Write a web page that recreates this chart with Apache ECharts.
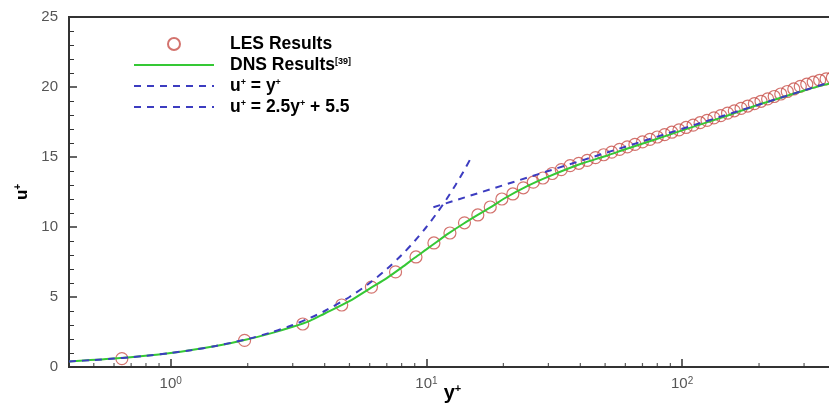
<!DOCTYPE html>
<html><head><meta charset="utf-8">
<script src="https://cdn.jsdelivr.net/npm/echarts@6/dist/echarts.min.js"></script>
<style>html,body{margin:0;padding:0;background:#fff}#c{width:829px;height:406px}</style>
</head><body><div id="c"></div>
<script>
// LES results (y+, u+)
const lesY = [0.644,1.944,3.284,4.664,6.094,7.574,9.104,10.70,12.36,14.09,15.89,17.77,19.73,21.78,23.93,26.18,28.55,31.05,33.69,36.48,39.43,42.55,45.85,49.34,53.03,56.93,61.05,65.40,70.00,74.86,80.00,85.43,91.17,97.24,103.65,110.43,117.60,125.18,133.19,141.66,150.61,160.07,170.07,180.64,191.81,203.62,216.10,229.29,243.23,257.97,273.55,290.02,307.43,325.83,345.28,365.84,386.9];
const lesU = [0.6,1.9,3.07,4.43,5.71,6.79,7.86,8.86,9.57,10.3,10.86,11.43,12.0,12.36,12.8,13.2,13.5,13.82,14.1,14.38,14.55,14.76,14.96,15.16,15.35,15.54,15.72,15.90,16.08,16.26,16.43,16.60,16.77,16.94,17.11,17.28,17.45,17.62,17.79,17.96,18.13,18.30,18.47,18.64,18.81,18.98,19.15,19.32,19.50,19.68,19.86,20.04,20.20,20.35,20.48,20.58,20.66];
// DNS results
const dnsY = [0.4,0.6,1,1.5,2,2.5,3,3.5,4,5,6,7,8,9,10,11,12,14,16,18,20,25,30,40,50,60,80,100,150,200,250,300,350,400];
const dnsU = [0.4,0.6,1.0,1.5,1.98,2.44,2.87,3.3,3.82,4.7,5.6,6.35,7.1,7.8,8.4,8.95,9.45,10.25,10.9,11.45,12.0,12.95,13.6,14.5,15.05,15.55,16.3,16.9,17.95,18.75,19.3,19.75,20.1,20.35];
// u+ = y+
const linY = [0.4,0.5,0.6,0.7,0.8,1,1.2,1.5,2,2.5,3,3.5,4,5,6,7,8,9,10,11,12,13,14,15];
const linU = [0.4,0.5,0.6,0.7,0.8,1,1.2,1.5,2,2.5,3,3.5,4,5,6,7,8,9,10,11,12,13,14,15];
// log law
const logY = [10.65, 400];
const logU = [11.41, 20.48];
// minor tick positions on the log x axis
const xMinorTicks = [0.5,0.6,0.7,0.8,0.9,2,3,4,5,6,7,8,9,20,30,40,50,60,70,80,90,200,300];
const seriesNames = ['LES Results','DNS Results','u+ = y+','u+ = 2.5y+ + 5.5'];
const legendLabels = {
  'LES Results': '{b|LES Results}',
  'DNS Results': '{b|DNS Results}{s|[39]}',
  'u+ = y+': '{b|u}{s|+}{b| = y}{s|+}',
  'u+ = 2.5y+ + 5.5': '{b|u}{s|+}{b| = 2.5y}{s|+}{b| + 5.5}'
};

const FONT = '"Liberation Sans", Arial, sans-serif';
const zip = (a, b) => a.map((v, i) => [v, b[i]]);
const chart = echarts.init(document.getElementById('c'), null, {renderer: 'canvas'});
chart.setOption({
  backgroundColor: '#fff',
  animation: false,
  textStyle: {fontFamily: FONT},
  grid: {left: 69, right: -7, top: 17, bottom: 39, show: true, borderColor: '#333', borderWidth: 2,
         containLabel: false, outerBoundsMode: 'none'},
  legend: {
    orient: 'vertical', left: 128, top: 30, itemWidth: 80, itemHeight: 12, itemGap: 3,
    data: seriesNames.map((n, i) => i === 0 ? {name: n} : {name: n, itemStyle: {opacity: 0}}),
    formatter: n => legendLabels[n],
    textStyle: {
      padding: [0, 0, 0, 11],
      rich: {
        b: {fontFamily: FONT, fontWeight: 'bold', fontSize: 17.5, color: '#000', lineHeight: 16},
        s: {fontFamily: FONT, fontWeight: 'bold', fontSize: 9, color: '#000', verticalAlign: 'top', lineHeight: 9}
      }
    }
  },
  xAxis: {
    type: 'log', logBase: 10, min: 0.4, max: 400,
    name: '{b|y}{s|+}', nameLocation: 'middle', nameGap: 16, nameMoveOverlap: false,
    nameTextStyle: {rich: {
      b: {fontFamily: FONT, fontWeight: 'bold', fontSize: 20, color: '#000'},
      s: {fontFamily: FONT, fontWeight: 'bold', fontSize: 11, color: '#000', verticalAlign: 'top', lineHeight: 8}
    }},
    axisLine: {show: true, lineStyle: {color: '#333', width: 2}},
    axisTick: {show: true, inside: true, length: 8, lineStyle: {color: '#333', width: 1.5}},
    minorTick: {show: false},
    splitLine: {show: false},
    axisLabel: {
      margin: 9, showMinLabel: false, showMaxLabel: false,
      formatter: v => {
        const e = Math.log10(v);
        if (Math.abs(e - Math.round(e)) > 1e-6) return '';
        return '{n|10}{s|' + Math.round(e) + '}';
      },
      rich: {
        n: {fontFamily: FONT, fontSize: 15, color: '#555'},
        s: {fontFamily: FONT, fontSize: 10, color: '#555', verticalAlign: 'top', lineHeight: 8}
      }
    }
  },
  yAxis: {
    type: 'value', min: 0, max: 25, interval: 5,
    name: '{b|u}{s|+}', nameLocation: 'middle', nameGap: 38, nameRotate: 90,
    nameTextStyle: {rich: {
      b: {fontFamily: FONT, fontWeight: 'bold', fontSize: 17, color: '#000'},
      s: {fontFamily: FONT, fontWeight: 'bold', fontSize: 10, color: '#000', verticalAlign: 'top', lineHeight: 8}
    }},
    axisLine: {show: true, lineStyle: {color: '#333', width: 2}},
    axisTick: {show: true, inside: true, length: 8, lineStyle: {color: '#333', width: 1.5}},
    minorTick: {show: true, splitNumber: 5, length: 5, lineStyle: {color: '#333', width: 1}},
    splitLine: {show: false},
    axisLabel: {margin: 11, fontFamily: FONT, fontSize: 15, color: '#555'}
  },
  series: [
    {
      name: 'LES Results', type: 'scatter', data: zip(lesY, lesU),
      symbol: 'circle', symbolSize: 12,
      itemStyle: {color: 'rgba(255,255,255,0)', borderColor: '#c8504a', borderWidth: 1.2},
      z: 2
    },
    {
      name: 'DNS Results', type: 'line', data: zip(dnsY, dnsU), symbol: 'none', smooth: 0.3,
      lineStyle: {color: '#35c835', width: 2}, itemStyle: {color: '#35c835'}, z: 3
    },
    {
      name: 'u+ = y+', type: 'line', data: zip(linY, linU), symbol: 'none', smooth: 0.3,
      lineStyle: {color: '#3c3cc0', width: 2, type: [7, 6]}, itemStyle: {color: '#3c3cc0'}, z: 4
    },
    {
      name: 'u+ = 2.5y+ + 5.5', type: 'line', data: zip(logY, logU), symbol: 'none',
      lineStyle: {color: '#3c3cc0', width: 2, type: [7, 6]}, itemStyle: {color: '#3c3cc0'}, z: 4
    },
    {
      name: 'minorTicks', type: 'scatter', data: xMinorTicks.map(v => [v, 0]),
      symbol: 'rect', symbolSize: [1.2, 4], symbolOffset: [0, -2],
      itemStyle: {color: '#333'}, silent: true, clip: false, z: 5
    }
  ]
});
</script></body></html>
